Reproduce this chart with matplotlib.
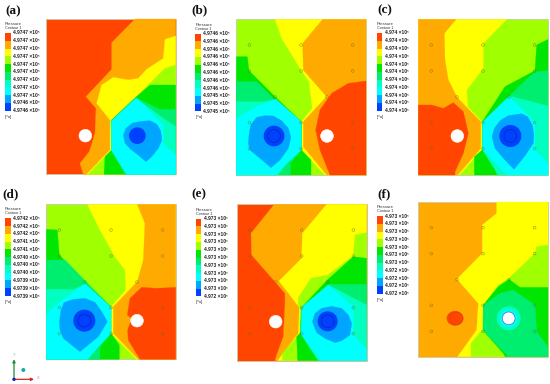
#!/usr/bin/env python3
# -*- coding: utf-8 -*-

import matplotlib
matplotlib.use("Agg")
import matplotlib.pyplot as plt
from matplotlib.patches import Circle, Ellipse, Rectangle, Polygon

# ========= CONFIGURATION =========
FONT = ["Liberation Sans", "DejaVu Sans"]
LEVEL_COLORS = ["#ff4500", "#ffaa00", "#ffff00", "#a0ff00", "#00e600",
                "#00ee70", "#00ffc0", "#00ffff", "#00a5ff", "#0040ff"]
RED, ORANGE, YELLOW, LIME, GREEN, SPRING, AQUA, CYAN, SKY, BLUE = range(10)

# all coordinates are in 3x pixels of each panel's crop
PANEL_NAMES = ["(a)", "(b)", "(c)", "(d)", "(e)", "(f)"]
CROP_ORIGINS = [(0, 0), (185, 0), (365, 0), (0, 190), (185, 190), (365, 190)]
PLOT_BOXES = [(139, 57, 527, 523), (154, 58, 543, 525), (160, 58, 549, 525),
              (139, 43, 527, 508), (156, 43, 545, 512), (160, 36, 549, 500)]
BASE_LEVELS = [RED, LIME, LIME, LIME, RED, ORANGE]
NAME_POS = [(15, 33), (18, 31), (37, 31), (8, 14), (18, 14), (36, 14)]
BAR_POS = [(15, 99), (31, 101), (35, 99), (15, 85), (32, 86), (36, 78)]

LABELS_A = ["4.9747"] * 9 + ["4.9746"] * 2
LABELS_B = ["4.9746"] * 8 + ["4.9745"] * 3
LABELS_C = ["4.974"] * 11
LABELS_D = ["4.9742", "4.9742", "4.9742", "4.9741", "4.9741", "4.9740",
            "4.9740", "4.9740", "4.9739", "4.9739", "4.9739"]
LABELS_E = ["4.973"] * 10 + ["4.972"]
LABELS_F = ["4.973"] * 7 + ["4.972"] * 4
LABELS = [LABELS_A, LABELS_B, LABELS_C, LABELS_D, LABELS_E, LABELS_F]

REGIONS_A = [
    (ORANGE, [(405, 57), (527, 57), (527, 523), (250, 523), (240, 490), (268, 455), (285, 400),
              (288, 325), (258, 290), (335, 208), (335, 128)]),
    (YELLOW, [(527, 108), (495, 118), (490, 175), (440, 208), (415, 235), (385, 240), (340, 232),
              (305, 255), (290, 310), (330, 360), (330, 450), (260, 523), (527, 523)]),
    (LIME, [(527, 195), (495, 205), (410, 290), (332, 362), (334, 450), (264, 523), (527, 523)]),
    (GREEN, [(527, 255), (450, 255), (407, 292), (333, 362), (335, 450), (315, 470), (312, 523), (527, 523)]),
    (SPRING, [(407, 292), (480, 328), (527, 328), (527, 523), (375, 523), (334, 450), (334, 362)]),
    (AQUA, [(407, 294), (490, 355), (527, 380), (527, 523), (380, 523), (334, 450), (334, 364)]),
    (CYAN, [(410, 295), (490, 375), (490, 430), (527, 465), (527, 523), (380, 523), (334, 450), (334, 364)]),
    (SKY, [(370, 405), (378, 385), (397, 369), (425, 364), (450, 362), (470, 372), (482, 392), (486, 420),
           (475, 445), (455, 470), (438, 485), (415, 465), (392, 448), (375, 430)]),
]
REGIONS_B = [
    (YELLOW, [(270, 58), (543, 58), (543, 525), (420, 525), (350, 450), (350, 365), (382, 325),
              (372, 245), (345, 205), (290, 115)]),
    (ORANGE, [(413, 58), (543, 58), (543, 525), (425, 525), (355, 440), (355, 365), (425, 290),
              (355, 210), (353, 130)]),
    (RED, [(543, 243), (490, 250), (440, 280), (405, 330), (392, 390), (405, 450), (435, 525), (543, 525)]),
    (GREEN, [(154, 170), (187, 170), (192, 212), (270, 290), (349, 365), (349, 450), (378, 480),
             (378, 525), (154, 525)]),
    (SPRING, [(154, 245), (215, 245), (268, 298), (349, 368), (349, 450), (316, 490), (316, 525), (154, 525)]),
    (AQUA, [(154, 305), (235, 305), (272, 298), (349, 365), (349, 450), (300, 495), (278, 525), (154, 525)]),
    (CYAN, [(272, 298), (348, 365), (348, 450), (305, 490), (275, 525), (154, 525), (154, 355), (215, 320)]),
    (SKY, [(192, 405), (197, 375), (215, 352), (240, 347), (265, 348), (290, 362), (310, 385), (318, 412),
           (310, 445), (285, 480), (258, 503), (225, 475), (195, 450), (190, 430)]),
]
REGIONS_C = [
    (YELLOW, [(160, 58), (425, 58), (355, 130), (355, 205), (305, 270), (308, 320), (350, 365),
              (350, 450), (283, 525), (160, 525)]),
    (ORANGE, [(160, 58), (273, 58), (238, 100), (240, 180), (250, 240), (276, 292), (347, 365),
              (347, 445), (278, 525), (160, 525)]),
    (RED, [(160, 315), (200, 315), (235, 325), (265, 308), (295, 335), (310, 400), (295, 460),
           (270, 515), (270, 525), (160, 525)]),
    (GREEN, [(549, 118), (515, 135), (510, 212), (420, 260), (352, 365), (352, 450), (328, 470),
             (328, 525), (549, 525)]),
    (SPRING, [(549, 212), (510, 215), (430, 290), (353, 366), (353, 450), (385, 490), (395, 525), (549, 525)]),
    (AQUA, [(435, 288), (549, 318), (549, 525), (400, 525), (353, 450), (353, 366)]),
    (CYAN, [(432, 290), (478, 335), (510, 368), (510, 450), (549, 490), (549, 525), (425, 525),
            (353, 448), (353, 366)]),
    (SKY, [(381, 410), (388, 385), (405, 362), (430, 347), (470, 341), (488, 350), (502, 375), (507, 405),
           (505, 430), (478, 470), (447, 508), (418, 478), (390, 445)]),
]
REGIONS_D = [
    (YELLOW, [(262, 43), (527, 43), (527, 508), (410, 508), (334, 430), (334, 350), (378, 300),
              (375, 240), (345, 200), (300, 120)]),
    (ORANGE, [(412, 43), (527, 43), (527, 508), (415, 508), (340, 430), (340, 350), (412, 275),
              (430, 210), (435, 100)]),
    (RED, [(527, 292), (470, 295), (425, 292), (390, 325), (382, 375), (395, 385), (383, 420),
           (385, 450), (420, 508), (527, 508)]),
    (GREEN, [(139, 118), (172, 120), (178, 195), (255, 275), (333, 350), (333, 430), (358, 465),
             (358, 508), (139, 508)]),
    (SPRING, [(139, 210), (195, 210), (255, 272), (333, 352), (333, 430), (300, 470), (300, 508), (139, 508)]),
    (AQUA, [(139, 298), (222, 298), (255, 282), (333, 352), (333, 430), (290, 475), (265, 508), (139, 508)]),
    (CYAN, [(255, 282), (333, 352), (333, 430), (295, 470), (262, 508), (139, 508), (139, 372), (180, 335)]),
    (SKY, [(178, 395), (183, 360), (192, 338), (220, 328), (255, 325), (285, 337), (305, 365), (322, 395),
           (295, 440), (240, 485), (190, 445), (180, 420)]),
]
REGIONS_E = [
    (ORANGE, [(268, 43), (545, 43), (545, 512), (270, 512), (275, 495), (295, 440), (300, 345),
              (300, 310), (270, 275), (200, 195), (198, 130)]),
    (YELLOW, [(425, 43), (545, 43), (545, 512), (278, 512), (340, 430), (343, 352), (282, 273),
              (350, 205), (352, 130)]),
    (LIME, [(545, 128), (510, 135), (505, 198), (428, 255), (378, 265), (340, 322), (340, 350),
            (345, 350), (345, 430), (292, 490), (292, 512), (545, 512)]),
    (GREEN, [(545, 205), (505, 200), (427, 270), (350, 352), (345, 430), (335, 440), (338, 512), (545, 512)]),
    (SPRING, [(545, 283), (432, 283), (350, 352), (347, 430), (370, 470), (400, 512), (545, 512)]),
    (AQUA, [(430, 285), (545, 345), (545, 512), (400, 512), (347, 430), (350, 352)]),
    (CYAN, [(430, 285), (505, 350), (505, 435), (545, 478), (545, 512), (410, 512), (350, 435), (352, 352)]),
    (SKY, [(382, 395), (390, 370), (410, 355), (440, 349), (470, 355), (490, 375), (500, 400), (495, 435),
           (470, 452), (450, 458), (420, 445), (395, 428)]),
]
REGIONS_F = [
    (YELLOW, [(395, 36), (549, 36), (549, 500), (278, 500), (335, 420), (340, 340), (276, 267),
              (352, 190), (352, 105), (395, 70)]),
    (LIME, [(549, 165), (515, 170), (510, 190), (432, 265), (400, 285), (355, 345), (352, 420),
            (318, 460), (318, 500), (549, 500)]),
    (GREEN, [(549, 292), (465, 292), (432, 268), (400, 290), (355, 345), (355, 422), (415, 490),
             (420, 500), (549, 500)]),
    (SPRING, [(445, 300), (510, 345), (515, 425), (549, 470), (549, 500), (430, 500), (355, 422),
              (355, 345), (405, 310)]),
]
REGIONS = [REGIONS_A, REGIONS_B, REGIONS_C, REGIONS_D, REGIONS_E, REGIONS_F]

# blue core (x, y, radius) and the hole (x, y); panel (f) has its own core
CORES = [(412, 407, 25), (267, 408, 31), (436, 408, 33), (253, 392, 33), (428, 394, 30), None]
HOLES = [(256, 407), (426, 408), (277, 408), (411, 392), (272, 395), (431, 385)]
HAS_NODES = [False, True, True, True, True, True]
NODE_COLS = [39, 194, 349]
NODE_ROWS = [77, 155, 310, 388]
NODE_MIDS = [(116, 233), (272, 233)]
# ==================================


def draw_colorbar(ax, pos, labels):
    x0, y0 = pos
    step = 23.3
    ax.text(x0, y0 - 27, "Pressure", fontsize=3.1, color="#333333", family=FONT, va="center")
    ax.text(x0, y0 - 15, "Contour 1", fontsize=2.7, color="#333333", family=FONT, va="center")
    for i, col in enumerate(LEVEL_COLORS):
        ax.add_patch(Rectangle((x0, y0 + i * step), 17, step, fc=col, ec="none"))
    for i, lab in enumerate(labels):
        ax.text(x0 + 24, y0 + i * step, lab + " ×10⁵", fontsize=3.5, color="#222222",
                family=FONT, va="center", fontweight="bold")
    ax.text(x0, y0 + 10 * step + 18, "[Pa]", fontsize=2.9, color="#333333", family=FONT, va="center")


def draw_panel(fig, i):
    ox, oy = CROP_ORIGINS[i]
    w, h = 185, 194 if oy else 190
    ax = fig.add_axes([ox / 550, 1 - (oy + h) / 384, w / 550, h / 384])
    ax.set_xlim(0, w * 3)
    ax.set_ylim(h * 3, 0)
    ax.axis("off")
    ax.patch.set_alpha(0)

    l, t, r, b = PLOT_BOXES[i]
    base = LEVEL_COLORS[BASE_LEVELS[i]]
    ax.add_patch(Rectangle((l, t), r - l, b - t, fc=base, ec="#c9c9a8", lw=0.6, zorder=1))
    for level, pts in REGIONS[i]:
        col = LEVEL_COLORS[level]
        ax.add_patch(Polygon(pts, closed=True, fc=col, ec=col, lw=0.2, zorder=2))

    if CORES[i] is not None:
        cx, cy, rad = CORES[i]
        ax.add_patch(Circle((cx, cy), rad, fc=LEVEL_COLORS[BLUE], ec="none", zorder=3))
        if HAS_NODES[i]:
            ax.add_patch(Circle((cx, cy), 19, fc="none", ec="#0a2a90", lw=0.4, zorder=3))
    else:
        # panel (f): small high-pressure spot and rings round the hole
        ax.add_patch(Ellipse((270, 385), 50, 44, fc=LEVEL_COLORS[RED], ec="none", zorder=3))
        ax.add_patch(Circle((275, 385), 19, fc="none", ec="#c04010", lw=0.3, zorder=3))
        ax.add_patch(Circle((431, 385), 36, fc=LEVEL_COLORS[AQUA], ec="none", zorder=3))
        ax.add_patch(Circle((431, 385), 26, fc=LEVEL_COLORS[CYAN], ec="none", zorder=3))

    hx, hy = HOLES[i]
    hole_ec = "#3050c0" if CORES[i] is None else "white"
    ax.add_patch(Circle((hx, hy), 19, fc="white", ec=hole_ec, lw=0.4, zorder=4))

    if HAS_NODES[i]:
        pts = [(l + dx, t + dy) for dx in NODE_COLS for dy in NODE_ROWS] + [(l + dx, t + dy) for dx, dy in NODE_MIDS]
        for x, y in pts:
            ax.add_patch(Circle((x, y), 4, fc="none", ec="#6b6b2a", lw=0.35, alpha=0.8, zorder=5))

    draw_colorbar(ax, BAR_POS[i], LABELS[i])
    ax.text(*NAME_POS[i], PANEL_NAMES[i], fontsize=9.5, fontweight="bold", color="#111111",
            family="Liberation Serif", va="center", ha="left", clip_on=False)
    return ax


def draw_triad(ax):
    # little axis triad under panel (d)
    ax.annotate("", xy=(42, 508), xytext=(42, 570),
                arrowprops=dict(arrowstyle="-|>", color="#1f8a3a", lw=0.9, mutation_scale=4, shrinkA=0, shrinkB=0))
    ax.annotate("", xy=(102, 568), xytext=(40, 568),
                arrowprops=dict(arrowstyle="-|>", color="#e02020", lw=0.9, mutation_scale=4, shrinkA=0, shrinkB=0))
    ax.add_patch(Circle((42, 568), 5, fc="#1020c0", ec="none", zorder=6, clip_on=False))
    ax.add_patch(Circle((70, 540), 6, fc="#18a8b0", ec="none", zorder=6))
    ax.text(44, 494, "Y", fontsize=3, color="#70c080", ha="center", va="center", family=FONT)
    ax.text(116, 565, "X", fontsize=3, color="#e08080", ha="center", va="center", family=FONT)


if __name__ == "__main__":
    fig = plt.figure(figsize=(5.5, 3.84), dpi=100)
    axes = [draw_panel(fig, i) for i in range(len(PANEL_NAMES))]
    draw_triad(axes[3])
    fig.savefig("out.png", dpi=100)
